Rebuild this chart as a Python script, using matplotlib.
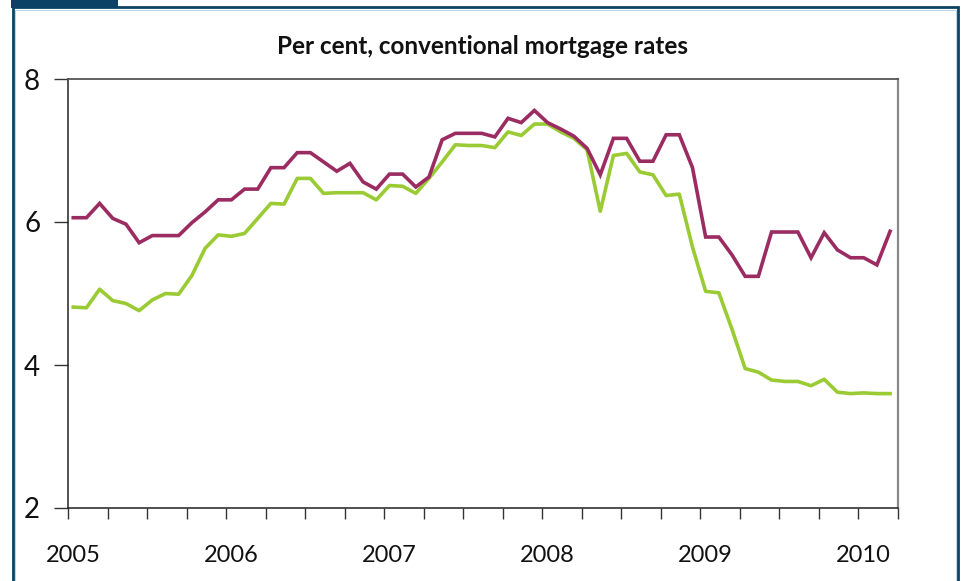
import matplotlib
matplotlib.use("Agg")
import matplotlib.pyplot as plt
import matplotlib.transforms as mtransforms
from matplotlib.patches import Rectangle
import numpy as np

# ---- data (monthly, Jan 2005 - Mar 2010) ----
start_year = 2005
n_months = 63
fixed_rate = [6.06, 6.06, 6.26, 6.05, 5.97, 5.71, 5.81, 5.81, 5.81, 5.99, 6.14, 6.31,
              6.31, 6.46, 6.46, 6.76, 6.76, 6.97, 6.97, 6.84, 6.71, 6.82, 6.56, 6.46,
              6.67, 6.67, 6.49, 6.63, 7.15, 7.24, 7.24, 7.24, 7.19, 7.45, 7.39, 7.56,
              7.39, 7.30, 7.20, 7.03, 6.66, 7.17, 7.17, 6.85, 6.85, 7.22, 7.22, 6.76,
              5.79, 5.79, 5.54, 5.24, 5.24, 5.86, 5.86, 5.86, 5.50, 5.85, 5.61, 5.50,
              5.50, 5.40, 5.87]
variable_rate = [4.81, 4.80, 5.06, 4.90, 4.86, 4.76, 4.91, 5.00, 4.99, 5.25, 5.63, 5.82,
                 5.80, 5.84, 6.05, 6.26, 6.25, 6.61, 6.61, 6.40, 6.41, 6.41, 6.41, 6.31,
                 6.51, 6.50, 6.40, 6.61, 6.84, 7.08, 7.07, 7.07, 7.04, 7.26, 7.21, 7.37,
                 7.37, 7.26, 7.17, 7.01, 6.15, 6.93, 6.96, 6.70, 6.66, 6.37, 6.39, 5.65,
                 5.03, 5.01, 4.50, 3.95, 3.90, 3.79, 3.77, 3.77, 3.71, 3.80, 3.62, 3.60,
                 3.61, 3.60, 3.60]
year_labels = ["2005", "2006", "2007", "2008", "2009", "2010"]
y_ticks = [2, 4, 6, 8]
title = "Per cent, conventional mortgage rates"

purple = "#9b2c62"
green = "#9acb34"
frame_blue = "#0b4266"
text_color = "#111111"

x = start_year + (np.arange(n_months) + 0.4) / 12.0

W, H = 961, 581
fig = plt.figure(figsize=(W / 100, H / 100), dpi=100)
fig.patch.set_facecolor("white")

# frame
def px_rect(x0, y0, x1, y1, **kw):
    return Rectangle((x0 / W, 1 - y1 / H), (x1 - x0) / W, (y1 - y0) / H,
                     transform=fig.transFigure, **kw)

fig.patches.append(px_rect(12.8, 7.2, 958.2, 600, fill=False, edgecolor=frame_blue, linewidth=2.0))
fig.patches.append(px_rect(15.2, 9.6, 955.8, 600, fill=False, edgecolor="#b9d3e8", linewidth=0.7))
fig.patches.append(px_rect(11, 0, 118, 7.5, facecolor=frame_blue, edgecolor="none"))

ax = fig.add_axes([68 / W, 1 - 508 / H, (898 - 68) / W, (508 - 79) / H])
ax.plot(x, fixed_rate, color=purple, lw=2.6, solid_joinstyle="miter", zorder=3)
ax.plot(x, variable_rate, color=green, lw=2.6, solid_joinstyle="round", zorder=2)

ax.set_xlim(2005, 2010.25)
ax.set_ylim(2, 8)

font = "Lato"
qticks = [2005 + q * 0.25 for q in range(22)]
qlabels = []
for q in range(22):
    qlabels.append(year_labels[q // 4] if q % 4 == 0 and q // 4 < len(year_labels) else "")
ax.set_xticks(qticks)
ax.set_xticklabels(qlabels, fontsize=17, family=font, color=text_color)
ax.set_yticks(y_ticks)
ax.set_yticklabels([str(v) for v in y_ticks], fontsize=20, family=font, color=text_color)
ax.tick_params(axis="x", direction="out", length=8, width=1.0, color="#333333", pad=19)
ax.tick_params(axis="y", direction="out", length=10, width=1.0, color="#333333", pad=10)

offset = mtransforms.ScaledTranslation(5 / 100, 0, fig.dpi_scale_trans)
for lab in ax.get_xticklabels():
    lab.set_transform(lab.get_transform() + offset)

for s in ["left", "bottom"]:
    ax.spines[s].set_color("#222222")
    ax.spines[s].set_linewidth(1.1)
ax.spines["top"].set_color("#555555")
ax.spines["top"].set_linewidth(1.3)
ax.spines["right"].set_color("#8a8a8a")
ax.spines["right"].set_linewidth(1.6)

fig.text((68 + 898) / 2 / W, 1 - 46 / H, title, ha="center", va="center",
         fontsize=17.5, fontweight="bold", family=font, color=text_color)

fig.savefig("out.png", dpi=100)
